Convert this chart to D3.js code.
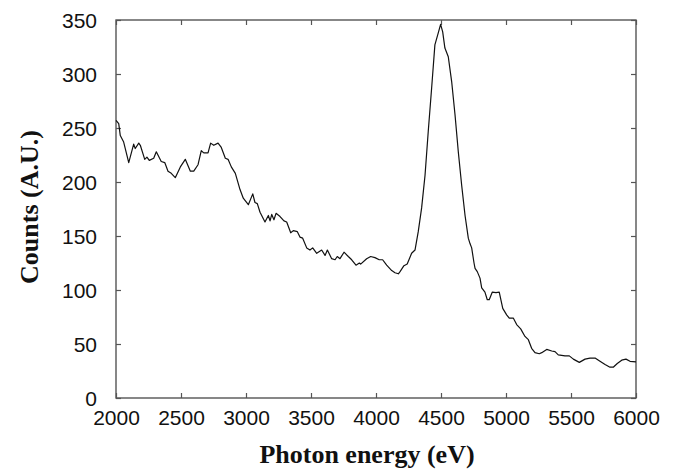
<!DOCTYPE html>
<html>
<head>
<meta charset="utf-8">
<script src="https://cdn.jsdelivr.net/npm/d3@7"></script>
<style>
body{margin:0;background:#fff;}
svg{display:block;}
</style>
</head>
<body>
<svg id="chart" width="678" height="470"></svg>
<script>
const energy = [2000,2021,2033,2059,2098,2136,2148,2175,2187,2221,2238,2256,2290,2310,2348,2375,2400,2425,2456,2495,2533,2572,2598,2631,2656,2675,2708,2728,2752,2785,2810,2841,2862,2887,2918,2954,2979,3018,3052,3069,3087,3108,3146,3172,3185,3198,3215,3231,3262,3292,3313,3344,3364,3395,3415,3436,3467,3492,3513,3544,3582,3608,3626,3659,3685,3702,3723,3754,3787,3813,3846,3872,3882,3928,3959,3992,4025,4051,4082,4121,4146,4172,4185,4215,4240,4274,4300,4325,4351,4377,4402,4428,4453,4479,4497,4513,4530,4556,4582,4608,4633,4659,4685,4710,4723,4736,4754,4762,4779,4800,4813,4838,4856,4871,4894,4923,4948,4975,5005,5025,5056,5082,5113,5146,5172,5197,5223,5256,5275,5313,5352,5377,5402,5454,5487,5518,5564,5608,5646,5685,5723,5762,5800,5825,5856,5890,5923,5954,6000];
const counts = [257,254,243,237,218,235,231,236,234,221,223,220,222,228,219,218,210,208,204,214,221,210,210,216,229,227,227,236,234,236,232,222,221,214,208,193,185,179,189,181,180,172,163,169,164,170,165,171,168,164,163,153,155,154,149,148,139,137,139,134,137,132,137,129,128,131,129,135,131,128,123,125,124,129,131,130,128,128,123,118,116,115,117,122.5,124,134,137,154,176,206,247,287,327,338,346,339,324,316,293,262,228,197,169,148,143,139,125,120,117,111,102,98,91,91,98,97.5,98,83,77,74,74,68,64,57,54,46,42,41,42,45,43.5,43,40,39,39,36,33,36,37,37,34,31,28.5,28.5,32,35,36,34,33.5];
const xTicks = [2000,2500,3000,3500,4000,4500,5000,5500,6000];
const yTicks = [0,50,100,150,200,250,300,350];

const svg = d3.select("#chart");
const L = 116, R = 636, T = 20, B = 398;
const x = d3.scaleLinear().domain([2000,6000]).range([L,R]);
const y = d3.scaleLinear().domain([0,350]).range([B,T]);
const frameColor = "#555";

// frame
svg.append("rect").attr("x",L).attr("y",T).attr("width",R-L).attr("height",B-T)
  .attr("fill","none").attr("stroke",frameColor).attr("stroke-width",1.4);

// inward ticks via axes
const tl = 5;
const axB = svg.append("g").attr("transform",`translate(0,${B})`)
  .call(d3.axisBottom(x).tickValues(xTicks).tickSize(-tl).tickPadding(12).tickFormat(d3.format("d")));
const axT = svg.append("g").attr("transform",`translate(0,${T})`)
  .call(d3.axisTop(x).tickValues(xTicks).tickSize(-tl).tickFormat(""));
const axL = svg.append("g").attr("transform",`translate(${L},0)`)
  .call(d3.axisLeft(y).tickValues(yTicks).tickSize(-tl).tickPadding(19));
const axR = svg.append("g").attr("transform",`translate(${R},0)`)
  .call(d3.axisRight(y).tickValues(yTicks).tickSize(-tl).tickFormat(""));
[axB,axT,axL,axR].forEach(a=>{
  a.select(".domain").remove();
  a.selectAll(".tick line").attr("stroke",frameColor).attr("stroke-width",1.2);
  a.selectAll(".tick text").attr("fill","#111")
   .style("font-family","'Liberation Sans', Arial, sans-serif").style("font-size","21px");
});
axL.selectAll(".tick text").attr("dy","0.36em");
axB.selectAll(".tick text").attr("dy","0.72em");

// curve
const line = d3.line().x((d,i)=>x(energy[i])).y(d=>y(d));
svg.append("path").datum(counts).attr("d",line)
  .attr("fill","none").attr("stroke","#111").attr("stroke-width",1.2).attr("stroke-linejoin","round");

// axis titles
svg.append("text").attr("x",367).attr("y",463).attr("text-anchor","middle")
  .style("font-family","'Liberation Serif', 'Times New Roman', serif").style("font-weight","bold").style("font-size","26px")
  .attr("fill","#111").text("Photon energy (eV)");
svg.append("text").attr("transform",`translate(38,207) rotate(-90)`).attr("text-anchor","middle")
  .style("font-family","'Liberation Serif', 'Times New Roman', serif").style("font-weight","bold").style("font-size","26px")
  .attr("fill","#111").text("Counts (A.U.)");
</script>
</body>
</html>
